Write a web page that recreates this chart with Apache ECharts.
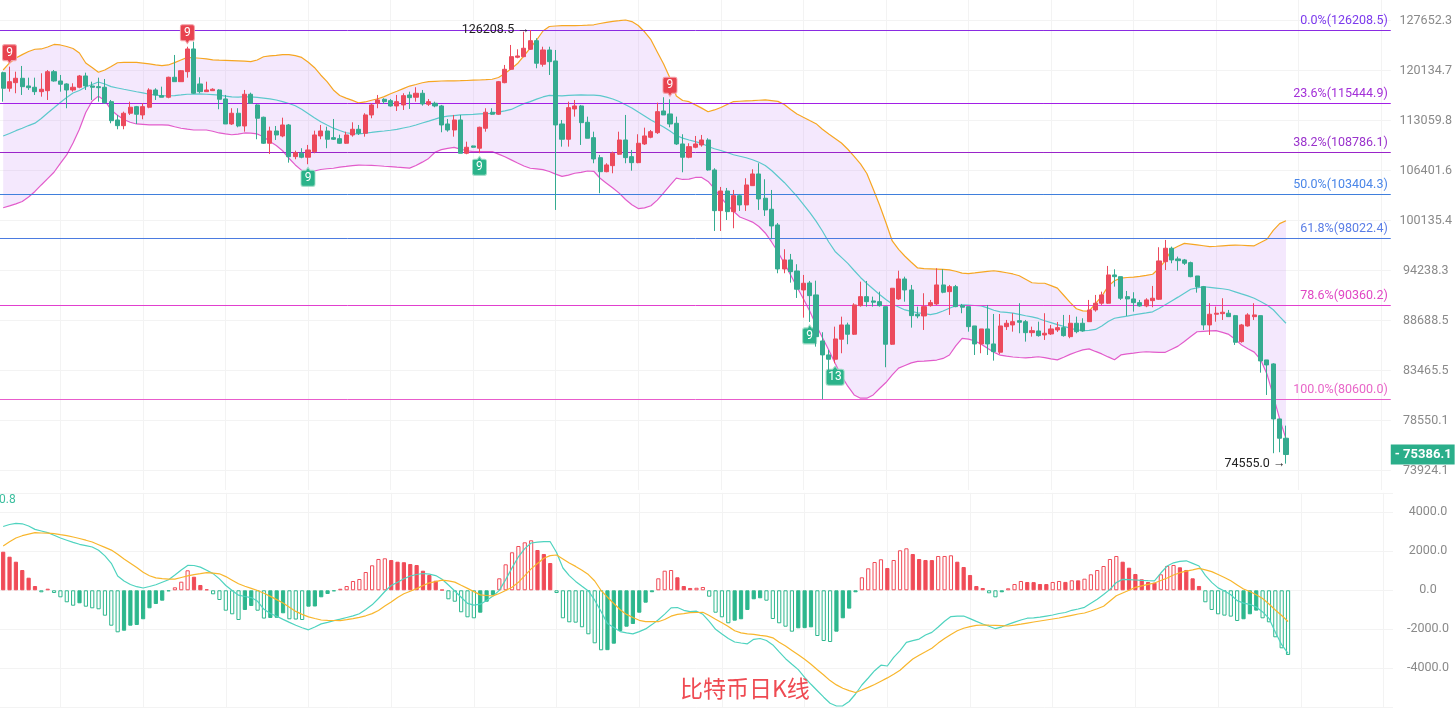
<!DOCTYPE html>
<html><head><meta charset="utf-8">
<script src="https://cdn.jsdelivr.net/npm/echarts@6.0.0/dist/echarts.min.js"></script>
<style>html,body{margin:0;padding:0;background:#fff;overflow:hidden}#c{width:1455px;height:710px}</style>
</head><body><div id="c"></div>
<script>
// [open, close, low, high]
const kData = [
[119850,117600,115700,119990],[117600,118544,117115,120724],[118401,119034,116888,119990],[119034,117828,116648,120827],[117929,117685,117357,119122],
[117743,117115,116648,119122],[117115,117457,116407,119759],[117256,119990,115940,120238],[119990,118644,118544,120238],[118644,118172,117115,119512],
[118215,117356,114781,118315],[117356,117743,117115,118315],[117743,119368,117599,119512],[119368,117929,117357,119845],[117929,117743,115940,118544],
[117828,117685,115702,119122],[117743,115563,115381,118933],[115702,113060,112706,115940],[113157,112378,111888,113850],[112378,114086,111888,114307],
[114086,114920,113850,115702],[115004,113947,112610,115102],[113850,115004,113254,115479],[114920,117356,114781,117599],[117356,116648,115940,117599],
[116549,116322,116322,117828],[116322,119179,116180,119266],[119179,118544,118544,122452],[118544,120135,118544,120238],[119990,123346,119122,123681],
[123346,116888,116789,124441],[118215,117115,116888,119179],[117115,117356,117115,118544],[117256,117457,117256,117599],[117356,116040,114642,117457],
[116082,112610,112610,116648],[112610,114086,112474,114781],[114086,112337,112157,114781],[112337,116747,111562,117356],[116747,115479,115381,116973],
[115242,113393,110539,115339],[113532,110004,109911,113615],[110004,111657,108586,112242],[111657,111118,110444,112337],[110983,112474,110808,113476],
[112474,108232,107445,112610],[108232,108757,107890,109020],[108678,108153,108021,109343],[108153,109113,107236,109778],[108889,111118,108678,111697],
[110983,111657,110539,112474],[111657,110539,109343,112242],[110754,110539,110444,113295],[110619,110004,109911,111158],[110004,111118,109911,111562],
[111118,111888,110889,112838],[111888,111347,111118,112474],[111347,113850,110889,114086],[113850,115242,113393,115479],[115479,115940,114781,116648],
[116040,115702,115381,116180],[115842,115102,115004,116082],[115102,115702,114404,116648],[115242,116549,114543,116888],[116648,116266,114683,117115],
[116322,116888,115702,117743],[116888,115381,115144,117356],[115339,115702,115102,116082],[115479,115102,114920,115702],[115102,112474,111482,115242],
[112610,111792,111562,113295],[111792,113157,110889,113850],[113157,108678,108678,113850],[108678,109472,108547,110217],[109645,109472,109419,109685],
[109343,112157,108678,112242],[112021,114224,111562,114781],[114224,113947,113850,114781],[113947,118544,113850,118644],[118401,120341,118315,120974],
[120341,122200,120238,123947],[122111,122304,121963,123301],[122200,123451,122111,125961],[123301,124593,123195,126208.5],[124593,121224,120488,124958],
[121077,123195,120724,123681],[123195,121460,119512,123681],[121563,112474,101450,123195],[112610,110539,109552,113157],[110539,114865,109552,115702],
[114683,115102,113615,115940],[115102,112787,109778,115242],[112842,110673,110673,113615],[110754,107929,107367,111562],[108100,106274,103526,108455],
[106274,107145,106197,107367],[107054,108678,106068,108889],[108547,110444,108455,111562],[110444,108100,107367,113850],[108232,107445,106402,109113],
[107445,110004,107367,111212],[109911,110983,109778,112106],[110808,111562,110673,111792],[111428,114307,111253,115563],[114404,113850,113850,116322],
[113989,112610,112157,116040],[112706,109911,109778,113615],[109911,108153,106197,111212],[108153,109552,108021,110004],[109472,109911,109343,110983],
[109778,110444,109552,111118],[110444,106493,106402,110673],[106493,101363,98892,106715],[101363,103814,98892,104321],[103814,101240,100221,104194],
[101240,103226,99218,103941],[103226,102068,101326,103439],[102068,104574,101326,105427],[104486,105979,104448,106585],[105979,102813,101450,107367],
[102901,101450,100712,105299],[101536,99495,97903,103941],[99616,94434,93943,99857],[94434,95474,93943,96722],[95474,94124,92878,96173],
[94204,92137,91170,94977],[92059,92810,89015,93750],[92844,91426,88550,93068],[91503,86985,85937,93102],[86531,85076,80621,87450],
[85076,84632,83365,85592],[84632,86743,84222,88047],[86711,88229,85248,89123],[88229,87239,86187,88475],[87239,90400,87165,90586],
[90323,91315,90213,92990],[91315,90761,90213,93068],[90838,90696,90213,91315],[90761,90323,90213,91869],[90213,86187,83813,90213],
[86187,92249,86114,92249],[91059,93295,90949,94238],[93295,92059,90761,93556],[92059,89232,87940,92620],[89384,89199,88949,90213],
[89199,90213,87694,91692],[90323,90652,90213,90949],[90509,92620,90400,94515],[92620,91803,91692,94400],[91869,92429,89308,92620],
[92429,90213,90147,92620],[90323,90147,89491,90509],[90213,88047,87513,90213],[88122,86218,85070,88122],[86218,87801,85248,87801],
[87801,86218,85070,90400],[86218,85416,84488,89413],[85354,88122,85174,89413],[88047,88411,87694,88765],[88229,88582,87513,89493],
[88689,88518,87344,90586],[88582,87408,86459,88765],[87408,87619,86985,88047],[87587,87091,86985,88582],[87165,87344,86637,89493],
[87270,87801,87165,88229],[87694,87940,87481,88550],[87940,87091,86985,89308],[86985,88411,86817,89308],[88411,87513,87344,89123],
[88411,87587,87513,88949],[88582,89851,88582,90949],[89851,90586,89666,91503],[90586,91503,90400,91869],[90586,93750,90509,94781],
[93750,93556,92429,94400],[93556,91137,90949,93556],[91315,91059,89199,91947],[91059,90652,89666,91803],[90652,90290,90213,90949],
[90290,90949,90147,91137],[90871,91137,90147,92507],[91026,95358,90949,96958],[95277,96840,94319,97819],[96840,95474,95093,97029],
[95590,95393,94238,95858],[95474,95093,94896,95590],[95162,93556,93488,95277],[93636,92429,91758,93636],[92429,88229,87694,92507],
[88229,89384,87165,90586],[89384,89493,88582,90213],[89449,89601,88765,91137],[89493,89123,89123,89851],[89232,86394,86114,89308],
[86458,88229,86352,88336],[88122,89308,88047,89493],[89123,89308,88765,90586],[89232,84457,83265,89232],[84560,84048,81039,84560],
[84151,78714,75506,84222],[78714,76892,75597,78714],[76892,75386.1,74555,78077]
];
const bollUpper = [
120238,121268,122007,122497,122971,123300,123346,123646,124022,123947,
123721,123421,122749,121268,120606,119903,120238,120753,121298,121342,
121371,121342,121239,121121,120974,120886,120974,121313,121711,122096,
122037,121963,121859,121726,121681,121652,121622,121578,121534,121475,
121711,122185,122304,122393,122497,122512,122349,122082,121416,120606,
119512,118544,117356,116577,116196,115885,115521,115660,115899,116111,
116407,116818,117171,117542,117914,118143,118387,118558,118601,118644,
118658,118673,118687,118716,118760,118788,118832,118890,119150,119715,
120429,121180,122334,123481,124699,126067,126759,126836,126882,126882,
126882,126913,126960,127021,127221,127406,127560,127652,127761,127513,
126913,125946,124745,122897,121121,119078,116507,115870,115702,115256,
114795,114294,114544,114879,115312,115716,115758,115800,115842,115899,
115940,115842,115744,115312,114604,113989,113531,113088,112651,111888,
111253,110646,110044,109206,108258,107276,106043,104067,102068,99918,
97701,96697,95905,95208,94549,94480,94446,94411,94376,94330,
94170,93954,93909,93988,94079,94158,94227,94124,94000,93863,
93659,93261,92866,92810,92810,92541,92260,91470,90685,89984,
89753,89721,90531,91359,92485,93091,93390,93458,93514,93593,
93706,93831,94492,95402,96697,97076,97418,97323,97229,97135,
97040,97076,97123,97170,97217,97194,97158,97123,97512,97903,
98969,99773,100135];
const bollMid = [
110983,111320,111697,112024,112392,112719,113365,114127,114851,115591,
116294,116931,117285,117785,118143,118501,118215,117828,117642,117457,
117285,117100,116931,116747,116620,116507,116535,116563,116648,116747,
116761,116789,116747,116690,116620,116492,116365,116351,116393,116365,
116308,116195,116082,115940,115716,115451,115130,114640,114058,113462,
112924,112474,112038,111725,111414,111306,111253,111347,111455,111576,
111657,111752,111875,112065,112229,112474,112747,113005,113268,113545,
113684,113767,113850,113892,113933,113989,114030,114072,114238,114404,
114613,115032,115432,115715,116054,116365,116591,116549,116507,116577,
116634,116648,116634,116620,116549,116337,116082,115730,115270,114823,
114265,113712,113157,112678,112201,111657,111050,110687,110444,110230,
109991,109578,109273,109047,108783,108481,108284,108087,107824,107497,
107080,106428,105659,104891,104004,103138,102142,101154,100075,98892,
97581,96464,95765,95070,94261,93466,92788,92171,91559,91004,
90509,90180,89852,89688,89547,89449,89341,89471,89742,90038,
90312,90400,90378,90334,90290,90070,89819,89645,89580,89504,
89373,89221,89091,88928,88678,88475,88261,88068,87887,87705,
87619,87651,87747,88122,88593,88949,89069,89188,89308,89428,
89536,89645,90016,90411,90838,91259,91703,92137,92283,92418,
92350,92271,92193,92081,91847,91614,91392,91137,90783,90400,
89874,89134,88411];
const bollLower = [
101722,101945,102192,102501,103063,103752,104574,105376,106197,107341,
108455,110044,111888,114197,115758,116478,115870,114544,113808,113226,
112842,112610,112542,112474,112474,112474,112447,112229,112024,111902,
111792,111792,111792,111616,111387,111253,111145,111226,111387,111374,
111253,110875,110230,109698,109007,108021,107145,106441,106068,106363,
106558,106650,106715,106858,106950,107067,107132,107106,107080,107041,
106976,106937,106858,106806,106728,107080,107510,107995,108810,109153,
109326,109446,109219,109007,108889,108889,108889,108889,108560,108218,
107811,107406,107015,106715,106624,106532,106300,105953,105671,105838,
106068,106184,106363,106325,105427,104802,104181,103539,102738,102093,
101623,101697,101969,102663,103564,104511,105440,105273,105312,105530,
105530,105018,104105,102999,102093,101290,100589,100282,99966,99435,
98654,97581,96394,95081,93750,92395,91081,89742,88229,86901,
85592,84222,82933,81903,81044,80720,80720,81044,81675,82271,
83033,83721,83987,84253,84406,84447,84498,84550,84715,85070,
86010,86806,86721,86532,86198,85780,85354,85055,84952,84859,
84808,84767,84818,84890,84797,84674,84571,84839,85137,85373,
85592,85707,85437,85179,84870,84571,85076,85179,85261,85354,
85406,85375,85344,85344,85667,85989,86479,86996,87503,87545,
87587,87619,87439,87218,86721,86114,85717,85364,84601,83134,
80947,78714,76827];
const macdHist = [
1979,1723,1467,1041,646,220,-103,82,-138,-359,
-615,-790,-667,-841,-923,-974,-1302,-1815,-2154,-2072,
-1815,-1780,-1487,-923,-703,-533,-51,154,441,1026,
697,272,51,-205,-497,-1046,-1231,-1523,-1010,-805,
-1046,-1450,-1420,-1410,-1180,-1487,-1500,-1523,-840,-830,
-359,-190,-50,80,220,477,579,938,1282,1607,
1641,1553,1467,1440,1349,1297,1005,785,492,30,
-462,-585,-1128,-1385,-1436,-1149,-585,-241,615,1333,
1949,2272,2461,2564,2067,1862,1400,-138,-1436,-1641,
-1660,-1897,-2256,-2718,-3077,-3070,-2738,-2087,-1867,-1728,
-1149,-636,-100,615,1005,1041,667,220,120,130,
170,-328,-1149,-1385,-1692,-1559,-1487,-1010,-462,-410,
-533,-1472,-1692,-1867,-2123,-1949,-1940,-1900,-2344,-2600,
-2651,-2123,-1436,-940,-103,667,1128,1451,1590,1144,
1554,2051,2154,1862,1605,1554,1550,1759,1760,1795,
1467,1195,785,220,118,-154,-359,-103,103,323,
477,426,420,323,320,426,477,430,513,510,
595,820,1041,1246,1605,1759,1467,1159,836,564,
427,390,820,1248,1299,1180,1043,615,222,-615,
-1009,-1231,-1299,-1350,-1573,-1487,-1231,-1043,-1436,-1641,
-2410,-2974,-3316];
const macdDif = [
3272,3374,3436,3410,3297,3123,3041,2959,2820,2682,
2569,2456,2359,2292,2220,2051,1764,1385,733,477,
297,185,118,195,287,415,544,785,1041,1277,
1272,1190,1031,856,585,246,-15,-251,-318,-374,
-564,-974,-1190,-1328,-1492,-1646,-1790,-1918,-2026,-1882,
-1723,-1646,-1559,-1482,-1395,-1313,-1200,-985,-744,-420,
-62,246,415,590,733,810,862,826,754,569,
272,-36,-354,-672,-764,-713,-518,-297,-5,549,
1149,1718,2138,2426,2472,2492,2492,1938,1144,754,
456,210,-31,-508,-1087,-1708,-1913,-2118,-2179,-2236,
-2118,-1979,-1759,-1508,-1220,-903,-882,-1026,-1092,-1072,
-1231,-1595,-2000,-2246,-2467,-2651,-2702,-2743,-2513,-2472,
-2574,-2800,-3159,-3508,-3790,-4067,-4461,-4820,-5149,-5482,
-5795,-5933,-5923,-5702,-5318,-4856,-4497,-4123,-3841,-3882,
-3436,-3092,-2667,-2579,-2502,-2292,-2159,-1882,-1585,-1349,
-1323,-1318,-1451,-1595,-1728,-1841,-1969,-1872,-1749,-1631,
-1523,-1431,-1410,-1379,-1323,-1267,-1190,-1138,-1026,-959,
-872,-662,-456,-215,46,400,559,544,528,508,
492,482,887,1246,1410,1487,1513,1379,1246,769,
405,123,-36,-226,-528,-656,-718,-856,-1108,-1436,
-2154,-2790,-3236];
const macdDea = [
2272,2487,2682,2800,2877,2954,2938,2928,2902,2851,
2805,2733,2656,2569,2477,2338,2200,2061,1846,1610,
1390,1169,923,749,636,600,569,569,656,738,
805,851,903,877,846,703,518,333,205,97,
-10,-149,-313,-477,-651,-867,-1082,-1236,-1364,-1446,
-1523,-1538,-1549,-1554,-1503,-1451,-1390,-1308,-1195,-1036,
-810,-605,-364,-179,-51,87,246,379,441,518,
482,420,256,97,-67,-236,-267,-287,-164,-10,
159,410,749,1097,1374,1641,1779,1810,1610,1400,
1226,1026,805,477,-10,-354,-677,-1000,-1236,-1395,
-1538,-1610,-1610,-1610,-1497,-1328,-1236,-1195,-1149,-1138,
-1128,-1292,-1482,-1667,-1861,-2077,-2185,-2236,-2261,-2308,
-2354,-2436,-2661,-2856,-3082,-3308,-3538,-3790,-4072,-4343,
-4631,-4851,-5025,-5143,-5241,-5113,-4979,-4831,-4661,-4492,
-4302,-4097,-3805,-3523,-3328,-3154,-2974,-2708,-2477,-2267,
-2077,-1944,-1861,-1800,-1779,-1790,-1800,-1810,-1831,-1790,
-1738,-1682,-1626,-1574,-1523,-1472,-1420,-1349,-1282,-1215,
-1164,-1062,-944,-815,-549,-282,-138,0,149,226,
303,374,503,631,785,903,985,1051,1128,1046,
959,810,656,487,277,67,-62,-231,-420,-703,
-1010,-1292,-1600];
const fibLevels = ['0.0%','23.6%','38.2%','50.0%','61.8%','78.6%','100.0%'];
const fibPrices = [126208.5,115444.9,108786.1,103404.3,98022.4,90360.2,80600.0];
const fibColors = ['#8a2be2','#a21fe6','#9a24c9','#3f7fdc','#4b7be0','#e23fcf','#e85ccc'];
const fibTextColors = ['#7c3aed','#a32fd8','#9a32cc','#4a86e8','#5a7de6','#e046c4','#e866c8'];
const priceTicks = [73924.1,78550.1,83465.5,88688.5,94238.3,100135.4,106401.6,113059.8,120134.7,127652.3];
const macdTicks = [-4000,-2000,0,2000,4000];
const macdLines = [-6000,-4000,-2000,0,2000,4000,5000];
const tdMarks = [
  {i:1, side:'top', text:'9'},{i:29, side:'top', text:'9'},{i:105, side:'top', text:'9'},
  {i:48, side:'bottom', text:'9'},{i:75, side:'bottom', text:'9'},{i:127, side:'bottom', text:'9'},{i:131, side:'bottom', text:'13'}
];
const highMark = {i:83, value:126208.5};
const lowMark = {i:202, value:74555.0};
const lastPrice = 75386.1;
const totalSlots = 219;

const UP = '#ec4a5c', DOWN = '#35ab90';
const MUP = '#f04b57', MDN = '#2db78d';
const cats = Array.from({length: totalSlots}, (_, i) => String(i));
const PIN_DOWN = 'path://M2,0 H12 Q14,0 14,2 V14 Q14,16 12,16 H9 L7,19 L5,16 H2 Q0,16 0,14 V2 Q0,0 2,0 Z';
const PIN_UP = 'path://M7,0 L9,3 H12 Q14,3 14,5 V17 Q14,19 12,19 H2 Q0,19 0,17 V5 Q0,3 2,3 H5 Z';

const histData = macdHist.map((v, i) => {
  const prev = i > 0 ? macdHist[i - 1] : v;
  const pos = v >= 0;
  const col = pos ? MUP : MDN;
  const hollow = i > 0 && (pos ? v > prev : v < prev);
  return {value: v, itemStyle: {color: hollow ? '#ffffff' : col, borderColor: col, borderWidth: 1}};
});

const fibLineData = fibPrices.map((p, k) => ({
  yAxis: p,
  lineStyle: {color: fibColors[k], width: 1, type: 'solid'},
  label: {show: true, position: 'insideEndTop', distance: 3, formatter: fibLevels[k] + '(' + p.toFixed(1) + ')',
          color: fibTextColors[k], fontSize: 12.5, fontFamily: 'Roboto, sans-serif'}
}));
fibLineData.push({
  yAxis: lastPrice,
  lineStyle: {color: 'rgba(0,0,0,0)', width: 0},
  label: {show: true, position: 'end', distance: 0, formatter: '- ' + lastPrice.toFixed(1), color: '#fff',
          backgroundColor: '#2aae8a', padding: [4, 3, 3, 4], fontSize: 13, fontWeight: 'bold', fontFamily: 'Roboto, sans-serif'}
});

const markPts = tdMarks.map(m => {
  const top = m.side === 'top';
  const val = top ? kData[m.i][3] : kData[m.i][2];
  const w = m.text.length > 1 ? 18 : 14;
  return {
    coord: [m.i, val],
    symbol: top ? PIN_DOWN : PIN_UP,
    symbolSize: [w, 19],
    symbolOffset: [0, top ? -12.5 : 12.5],
    symbolKeepAspect: false,
    itemStyle: {color: top ? '#e8434f' : '#2bb38a', borderColor: top ? '#f4a3aa' : '#9fdcc6', borderWidth: 1},
    label: {show: true, position: 'inside', formatter: m.text, color: '#fff', fontSize: 12,
            fontFamily: 'Roboto, sans-serif', offset: [0, top ? -1.5 : 1.5]}
  };
});
[highMark, lowMark].forEach(m => {
  markPts.push({
    coord: [m.i, m.value], symbol: 'circle', symbolSize: 1, itemStyle: {color: 'rgba(0,0,0,0)'},
    label: {show: true, position: 'left', distance: 0, formatter: m.value.toFixed(1) + ' \u2192',
            color: '#222', fontSize: 12.5, fontFamily: 'Roboto, sans-serif'}
  });
});

const chart = echarts.init(document.getElementById('c'), null, {renderer: 'canvas'});
const vSplit = {show: true, alignWithLabel: true, interval: (idx) => idx >= 9 && (idx - 9) % 13 === 0, lineStyle: {color: '#f3f3f3', width: 1}};
chart.setOption({
  animation: false,
  backgroundColor: '#ffffff',
  title: {text: '比特币日K线', left: 675, top: 672,
          textStyle: {color: '#ef4a52', fontSize: 23, fontWeight: 'normal', fontFamily: '"Noto Sans CJK SC", sans-serif'}},
  graphic: [{type: 'text', left: -1, top: 494, style: {text: '0.8', fill: '#3dbf9f', font: '12px Roboto, sans-serif'}}],
  grid: [
    {left: -1.5, width: 1394.5, top: 0, height: 490},
    {left: -1.5, width: 1394.5, top: 492.8, height: 214.5}
  ],
  xAxis: [
    {type: 'category', gridIndex: 0, data: cats, boundaryGap: true, axisLine: {show: false}, axisTick: {show: false}, axisLabel: {show: false}, splitLine: vSplit},
    {type: 'category', gridIndex: 1, data: cats, boundaryGap: true, axisLine: {show: false}, axisTick: {show: false}, axisLabel: {show: false}, splitLine: vSplit}
  ],
  yAxis: [
    {type: 'log', gridIndex: 0, position: 'right', min: 72208, max: 130901,
     axisLine: {show: false}, axisTick: {show: false, customValues: priceTicks},
     axisLabel: {customValues: priceTicks, formatter: v => Number(v).toFixed(1), color: '#8a8a8a', fontSize: 12.5,
                 fontFamily: 'Roboto, sans-serif', align: 'center', margin: 35},
     splitLine: {show: true, lineStyle: {color: '#f3f3f3'}}},
    {type: 'value', gridIndex: 1, position: 'right', min: -6000, max: 5000,
     axisLine: {show: false}, axisTick: {show: false, customValues: macdLines},
     axisLabel: {customValues: macdTicks, formatter: v => Number(v).toFixed(1), color: '#8a8a8a', fontSize: 12.5,
                 fontFamily: 'Roboto, sans-serif', align: 'center', margin: 35},
     splitLine: {show: true, lineStyle: {color: '#f3f3f3'}}}
  ],
  series: [
    {type: 'custom', name: 'bollFill', xAxisIndex: 0, yAxisIndex: 0, silent: true, z: 1,
     data: [[0, bollUpper[0]]],
     renderItem: (params, api) => {
       const pts = [];
       for (let i = 0; i < bollUpper.length; i++) pts.push(api.coord([i, bollUpper[i]]));
       for (let i = bollLower.length - 1; i >= 0; i--) pts.push(api.coord([i, bollLower[i]]));
       return {type: 'polygon', shape: {points: pts}, style: {fill: 'rgba(200,140,245,0.2)'}};
     }},
    {type: 'line', name: 'UP', xAxisIndex: 0, yAxisIndex: 0, data: bollUpper, showSymbol: false, silent: true, z: 3,
     lineStyle: {color: '#f6a623', width: 1.2}},
    {type: 'line', name: 'MID', xAxisIndex: 0, yAxisIndex: 0, data: bollMid, showSymbol: false, silent: true, z: 3,
     lineStyle: {color: '#5cc8cc', width: 1.2}},
    {type: 'line', name: 'LOW', xAxisIndex: 0, yAxisIndex: 0, data: bollLower, showSymbol: false, silent: true, z: 3,
     lineStyle: {color: '#e25ccb', width: 1.2}},
    {type: 'candlestick', name: 'BTC', xAxisIndex: 0, yAxisIndex: 0, data: kData, barWidth: 4.6, z: 5,
     itemStyle: {color: UP, color0: DOWN, borderColor: UP, borderColor0: DOWN, borderWidth: 1},
     markLine: {symbol: ['none', 'none'], silent: true, animation: false, data: fibLineData},
     markPoint: {animation: false, data: markPts}},
    {type: 'bar', name: 'MACD', xAxisIndex: 1, yAxisIndex: 1, data: histData, barWidth: 4.2, z: 2},
    {type: 'line', name: 'DIF', xAxisIndex: 1, yAxisIndex: 1, data: macdDif, showSymbol: false, silent: true, z: 3,
     lineStyle: {color: '#4fd3bf', width: 1.2}},
    {type: 'line', name: 'DEA', xAxisIndex: 1, yAxisIndex: 1, data: macdDea, showSymbol: false, silent: true, z: 3,
     lineStyle: {color: '#f8b62d', width: 1.2}}
  ]
});
</script>
</body></html>
